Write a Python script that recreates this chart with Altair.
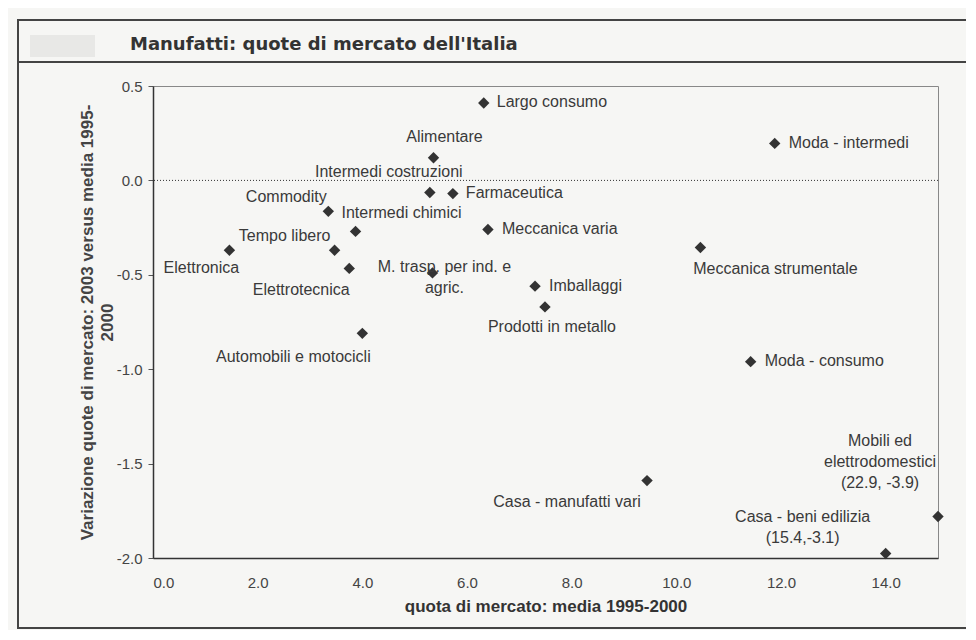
import altair as alt
import pandas as pd

# ---- data ----
sectors = [
    "Largo consumo", "Alimentare", "Intermedi costruzioni", "Farmaceutica",
    "Moda - intermedi", "Commodity", "Intermedi chimici", "Meccanica varia",
    "Tempo libero", "Elettronica", "Elettrotecnica", "M. trasp. per ind. e agric.",
    "Meccanica strumentale", "Imballaggi", "Prodotti in metallo",
    "Automobili e motocicli", "Moda - consumo", "Casa - manufatti vari",
    "Mobili ed elettrodomestici", "Casa - beni edilizia",
]
share = [6.32, 5.36, 5.29, 5.73, 11.88, 3.35, 3.87, 6.40, 3.47, 1.46, 3.75,
         5.34, 10.46, 7.30, 7.49, 4.00, 11.42, 9.44, 15.0, 14.0]
change = [0.41, 0.12, -0.064, -0.07, 0.196, -0.164, -0.27, -0.26, -0.37, -0.37,
          -0.466, -0.49, -0.355, -0.56, -0.67, -0.81, -0.96, -1.59, -1.78, -1.976]
labels = [
    "Largo consumo", "Alimentare", "Intermedi costruzioni", "Farmaceutica",
    "Moda - intermedi", "Commodity", "Intermedi chimici", "Meccanica varia",
    "Tempo libero", "Elettronica", "Elettrotecnica", "M. trasp. per ind. e\nagric.",
    "Meccanica strumentale", "Imballaggi", "Prodotti in metallo",
    "Automobili e motocicli", "Moda - consumo", "Casa - manufatti vari",
    "Mobili ed\nelettrodomestici\n(22.9, -3.9)", "Casa - beni edilizia\n(15.4,-3.1)",
]
x_ticks = [0, 2, 4, 6, 8, 10, 12, 14]
y_ticks = [-2.0, -1.5, -1.0, -0.5, 0.0, 0.5]

# ---- label placement (style): align, dx, dy of first-line centre, in px ----
placement = {
    "Largo consumo": ("left", 13, 0),
    "Alimentare": ("center", 11, -20),
    "Intermedi costruzioni": ("center", -41, -20),
    "Farmaceutica": ("left", 13, 0),
    "Moda - intermedi": ("left", 14, 0),
    "Commodity": ("center", -42, -14),
    "Intermedi chimici": ("left", -14, -18),
    "Meccanica varia": ("left", 14, 0),
    "Tempo libero": ("center", -50, -14),
    "Elettronica": ("center", -28, 18),
    "Elettrotecnica": ("center", -48, 22),
    "M. trasp. per ind. e agric.": ("center", 12, -5),
    "Meccanica strumentale": ("center", 75, 22),
    "Imballaggi": ("left", 14, 0),
    "Prodotti in metallo": ("center", 7, 21),
    "Automobili e motocicli": ("center", -69, 24),
    "Moda - consumo": ("left", 14, 0),
    "Casa - manufatti vari": ("center", -80, 22),
    "Mobili ed elettrodomestici": ("center", -58, -75),
    "Casa - beni edilizia": ("center", -83, -36),
}

W, H = 785, 472
X_DOM = [0, 15]
Y_DOM = [-2.0, 0.5]
FONT = "Liberation Sans"
INK = "#3a3a3a"
FS = 16

df = pd.DataFrame({"sector": sectors, "share": share, "change": change, "label": labels})
df["align"] = [placement[s][0] for s in sectors]
df["dx"] = [placement[s][1] for s in sectors]
df["dy"] = [placement[s][2] - 8.5 for s in sectors]

px_x = (X_DOM[1] - X_DOM[0]) / W
px_y = (Y_DOM[1] - Y_DOM[0]) / H

xs = alt.X("share:Q", scale=alt.Scale(domain=X_DOM, nice=False, zero=False),
           axis=alt.Axis(values=x_ticks, format=".1f", ticks=False, grid=False,
                         labelPadding=17, labelFont=FONT, labelFontSize=15,
                         labelColor="#444", domainColor="#333", domainWidth=1.5,
                         title="quota di mercato: media 1995-2000",
                         titleFont=FONT, titleFontSize=17, titleFontWeight="bold",
                         titleColor="#333", titlePadding=8))
ys = alt.Y("change:Q", scale=alt.Scale(domain=Y_DOM, nice=False, zero=False),
           axis=alt.Axis(values=y_ticks, format=".1f", tickSize=5, tickColor="#555",
                         labelExpr="replace(datum.label, '\u2212', '-')",
                         grid=False, labelPadding=6, labelFont=FONT,
                         labelFontSize=15, labelColor="#444", domainColor="#333",
                         domainWidth=1.5,
                         title=["Variazione quote di mercato: 2003 versus media 1995-", "2000"],
                         titleFont=FONT, titleFontSize=17, titleFontWeight="bold",
                         titleColor="#444", titlePadding=0, titleLineHeight=20))

base = alt.Chart(df)

points = base.mark_point(shape="diamond", filled=True, size=130, color="#333333",
                         opacity=1).encode(x=xs, y=ys)

zero_line = alt.Chart(pd.DataFrame({"z": [0.0]})).mark_rule(
    strokeDash=[1, 2], color="#333", strokeWidth=1).encode(y=alt.Y("z:Q"))

text_layers = []
for a in ["left", "center"]:
    text_layers.append(
        base.transform_filter(alt.datum.align == a)
        .transform_calculate(
            lx=f"datum.share + datum.dx * {px_x}",
            ly=f"datum.change - datum.dy * {px_y}")
        .mark_text(align=a, baseline="top", lineBreak="\n", font=FONT, fontSize=FS,
                   color=INK, lineHeight=21)
        .encode(x=alt.X("lx:Q"), y=alt.Y("ly:Q"), text="label:N")
    )

# decorative frame of the scanned page
frame = alt.Chart(pd.DataFrame({"k": [0]})).mark_rect(
    fill=None, stroke="#444", strokeWidth=2).encode(
    x=alt.value(-135), x2=alt.value(814), y=alt.value(-66), y2=alt.value(542))
sep = alt.Chart(pd.DataFrame({"k": [0]})).mark_rule(
    color="#444", strokeWidth=2).encode(
    x=alt.value(-135), x2=alt.value(814), y=alt.value(-24))
blank = alt.Chart(pd.DataFrame({"k": [0]})).mark_rect(
    fill="#e8e8e6", stroke=None).encode(
    x=alt.value(-123), x2=alt.value(-58), y=alt.value(-51), y2=alt.value(-29))
title = alt.Chart(pd.DataFrame({"t": ["Manufatti: quote di mercato dell'Italia"]})).mark_text(
    align="left", baseline="middle", font="DejaVu Sans", fontWeight="bold",
    fontSize=18, color="#333").encode(
    x=alt.value(-23), y=alt.value(-41), text="t:N")

chart = alt.layer(frame, sep, blank, title, zero_line, points, *text_layers).properties(
    width=W, height=H,
    autosize=alt.AutoSizeParams(type="none"),
    padding={"left": 145, "top": 78, "right": 28, "bottom": 72},
    background="#f6f6f4",
).configure_view(stroke="#888", strokeWidth=1)

chart.save("out.html", embed_options={"renderer": "svg", "actions": False})
